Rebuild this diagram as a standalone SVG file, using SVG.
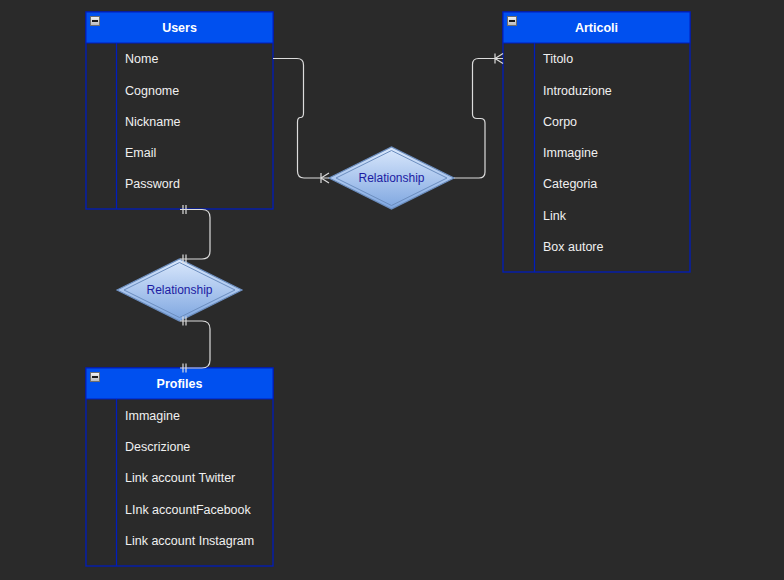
<svg xmlns="http://www.w3.org/2000/svg" width="784" height="580" viewBox="0 0 784 580">
<defs>
<linearGradient id="dg" x1="0" y1="0" x2="0" y2="1">
<stop offset="0" stop-color="#dae8fc"/>
<stop offset="1" stop-color="#7ea6e0"/>
</linearGradient>
<linearGradient id="ig" x1="0" y1="0" x2="0" y2="1">
<stop offset="0" stop-color="#f4f4f4"/>
<stop offset="1" stop-color="#b8b8b8"/>
</linearGradient>
<g id="minus">
<rect x="0.5" y="0.5" width="9" height="9" fill="url(#ig)" stroke="#6d6d6d" stroke-width="1"/>
<rect x="2" y="4" width="6" height="2" fill="#1a1a1a"/>
</g>
</defs>
<style>
.hdr{fill:#0050ef;stroke:#001dbc;stroke-width:1}
.body{fill:#2a2a2a;stroke:#001dbc;stroke-width:1.3}
.sep{stroke:#001dbc;stroke-width:1.3}
.ht{font-family:"Liberation Sans",Arial,sans-serif;font-size:12.5px;font-weight:bold;fill:#ffffff;text-anchor:middle}
.ft{font-family:"Liberation Sans",Arial,sans-serif;font-size:12.5px;fill:#f0f0f0}
.dia{fill:url(#dg);stroke:#6c8ebf;stroke-width:1.2}
.dia2{fill:none;stroke:#6c8ebf;stroke-width:1}
.rt{font-family:"Liberation Sans",Arial,sans-serif;font-size:12px;fill:#1c1ca3;text-anchor:middle}
.con{fill:none;stroke:#dcdcdc;stroke-width:1.2}
</style>
<rect x="0" y="0" width="784" height="580" fill="#2a2a2a"/>

<g id="users">
<rect class="body" x="86" y="12" width="187" height="197"/>
<rect class="hdr" x="86" y="12" width="187" height="31"/>
<line class="sep" x1="116.5" y1="43" x2="116.5" y2="209"/>
<use href="#minus" x="90" y="16"/>
<text class="ht" x="179.5" y="32">Users</text>
<text class="ft" x="125" y="63">Nome</text>
<text class="ft" x="125" y="94.5">Cognome</text>
<text class="ft" x="125" y="125.5">Nickname</text>
<text class="ft" x="125" y="156.5">Email</text>
<text class="ft" x="125" y="188">Password</text>
</g>

<g id="articoli">
<rect class="body" x="503" y="12" width="187" height="260"/>
<rect class="hdr" x="503" y="12" width="187" height="31"/>
<line class="sep" x1="534.5" y1="43" x2="534.5" y2="272"/>
<use href="#minus" x="507" y="16"/>
<text class="ht" x="596.5" y="32">Articoli</text>
<text class="ft" x="543" y="63">Titolo</text>
<text class="ft" x="543" y="94.5">Introduzione</text>
<text class="ft" x="543" y="125.5">Corpo</text>
<text class="ft" x="543" y="156.5">Immagine</text>
<text class="ft" x="543" y="188">Categoria</text>
<text class="ft" x="543" y="219.5">Link</text>
<text class="ft" x="543" y="250.5">Box autore</text>
</g>

<g id="profiles">
<rect class="body" x="86" y="368" width="187" height="198"/>
<rect class="hdr" x="86" y="368" width="187" height="31"/>
<line class="sep" x1="116.5" y1="399" x2="116.5" y2="566"/>
<use href="#minus" x="90" y="372"/>
<text class="ht" x="179.5" y="388">Profiles</text>
<text class="ft" x="125" y="420">Immagine</text>
<text class="ft" x="125" y="451">Descrizione</text>
<text class="ft" x="125" y="482">Link account Twitter</text>
<text class="ft" x="125" y="513.5">LInk accountFacebook</text>
<text class="ft" x="125" y="545">Link account Instagram</text>
</g>

<g id="rel1">
<polygon class="dia" points="329,178 391.5,147 454,178 391.5,209"/>
<polygon class="dia2" points="336,178 391.5,150.5 447,178 391.5,205.5"/>
<text class="rt" x="391.5" y="182">Relationship</text>
</g>

<g id="rel2">
<polygon class="dia" points="117,290 179.5,259 242,290 179.5,321"/>
<polygon class="dia2" points="124,290 179.5,262.5 235,290 179.5,317.5"/>
<text class="rt" x="179.5" y="294">Relationship</text>
</g>

<g id="connectors">
<path class="con" d="M273,58.5 H297 Q303.5,58.5 303.5,65 V113 Q303.5,117.5 300.5,117.5 Q297.5,117.5 297.5,122 V171 Q297.5,178 304,178 H329"/>
<path class="con" d="M321,173 V183 M321,178 L329,173 M321,178 L329,183"/>
<path class="con" d="M454,178 H479 Q485,178 485,172 V123 Q485,118.5 480.5,118.5 H477 Q472.5,118.5 472.5,114 V64.5 Q472.5,58.5 478.5,58.5 H503"/>
<path class="con" d="M495,53.5 V63.5 M495,58.5 L503,53.5 M495,58.5 L503,63.5"/>
<path class="con" d="M180,209.5 H202 Q210,209.5 210,217.5 V251 Q210,259 202,259 H180"/>
<path class="con" d="M183,205 V214 M186,205 V214 M183,254.5 V263.5 M186,254.5 V263.5"/>
<path class="con" d="M180,321 H202 Q210,321 210,329 V360 Q210,368 202,368 H180"/>
<path class="con" d="M183,316.5 V325.5 M186,316.5 V325.5 M183,363.5 V372.5 M186,363.5 V372.5"/>
</g>
</svg>
